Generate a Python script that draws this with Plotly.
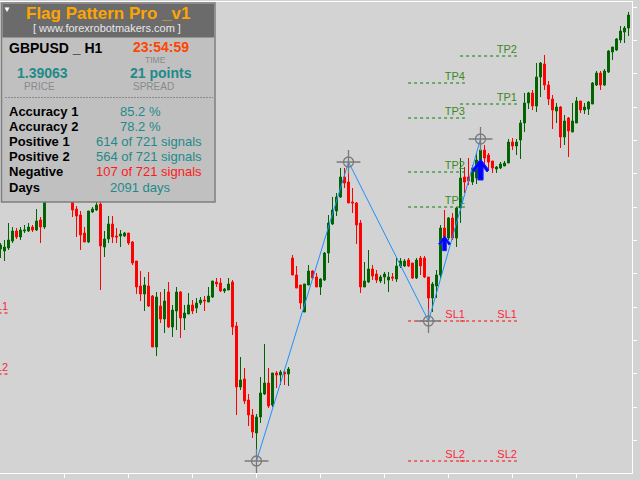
import plotly.graph_objects as go

# GBPUSD H1 bars, oldest -> newest
opens = [
    1.37893, 1.37883, 1.37898, 1.37933, 1.37983, 1.37953, 1.37983, 1.37983, 1.38003, 1.37988,
    1.38038, 1.38003, 1.38148, 1.38188, 1.38163, 1.38208, 1.38178, 1.38198, 1.38148, 1.38093,
    1.38063, 1.37973, 1.37928, 1.38078, 1.38088, 1.38118, 1.37903, 1.37943, 1.38018, 1.37958,
    1.37958, 1.37958, 1.37973, 1.37928, 1.37833, 1.37708, 1.37668, 1.37708, 1.37658, 1.37403,
    1.37608, 1.37543, 1.37678, 1.37503, 1.37583, 1.37678, 1.37548, 1.37568, 1.37613, 1.37598,
    1.37623, 1.37638, 1.37628, 1.37653, 1.37728, 1.37723, 1.37683, 1.37688, 1.37728, 1.37508,
    1.37203, 1.37243, 1.37138, 1.37063, 1.36973, 1.37053, 1.37168, 1.37223, 1.37113, 1.37273,
    1.37263, 1.37278, 1.37268, 1.37848, 1.37763, 1.37713, 1.37578, 1.37713, 1.37783, 1.37753,
    1.37703, 1.37738, 1.37873, 1.38018, 1.38083, 1.38153, 1.38253, 1.38228, 1.38128, 1.38123,
    1.38023, 1.37703, 1.37728, 1.37793, 1.37768, 1.37733, 1.37753, 1.37738, 1.37753, 1.37743,
    1.37808, 1.37808, 1.37838, 1.37823, 1.37748, 1.37848, 1.37848, 1.37753, 1.37648, 1.37708,
    1.37763, 1.37998, 1.37948, 1.38048, 1.37948, 1.38098, 1.38253, 1.38253, 1.38228, 1.38248,
    1.38338, 1.38388, 1.38363, 1.38333, 1.38293, 1.38298, 1.38308, 1.38323, 1.38428, 1.38408,
    1.38438, 1.38523, 1.38623, 1.38673, 1.38608, 1.38753, 1.38818, 1.38713, 1.38643, 1.38583,
    1.38603, 1.38453, 1.38548, 1.38478, 1.38523, 1.38633, 1.38588, 1.38593, 1.38618, 1.38713,
    1.38773, 1.38713, 1.38778, 1.38878, 1.38888, 1.38938, 1.38978, 1.38998,
]
highs = [
    1.37923, 1.37938, 1.38023, 1.38003, 1.37998, 1.38003, 1.38013, 1.38023, 1.38013, 1.38093,
    1.38053, 1.38168, 1.38213, 1.38223, 1.38238, 1.38228, 1.38218, 1.38208, 1.38168, 1.38108,
    1.38083, 1.38003, 1.38083, 1.38103, 1.38128, 1.38128, 1.37983, 1.38058, 1.38058, 1.37998,
    1.37988, 1.37978, 1.37973, 1.37933, 1.37833, 1.37783, 1.37753, 1.37778, 1.37663, 1.37678,
    1.37678, 1.37693, 1.37728, 1.37613, 1.37703, 1.37683, 1.37613, 1.37673, 1.37638, 1.37648,
    1.37653, 1.37658, 1.37703, 1.37733, 1.37748, 1.37748, 1.37698, 1.37748, 1.37738, 1.37528,
    1.37353, 1.37298, 1.37168, 1.37093, 1.37068, 1.37253, 1.37418, 1.37298, 1.37273, 1.37283,
    1.37288, 1.37288, 1.37303, 1.37863, 1.37808, 1.37713, 1.37718, 1.37813, 1.37788, 1.37773,
    1.37748, 1.37878, 1.38063, 1.38153, 1.38173, 1.38298, 1.38298, 1.38328, 1.38198, 1.38128,
    1.38038, 1.37828, 1.37888, 1.37813, 1.37788, 1.37763, 1.37778, 1.37778, 1.37773, 1.37848,
    1.37848, 1.37843, 1.37848, 1.37823, 1.37848, 1.37858, 1.37858, 1.37753, 1.37728, 1.37788,
    1.38013, 1.38088, 1.38053, 1.38073, 1.38103, 1.38348, 1.38303, 1.38348, 1.38313, 1.38373,
    1.38423, 1.38413, 1.38373, 1.38333, 1.38308, 1.38328, 1.38333, 1.38443, 1.38448, 1.38443,
    1.38538, 1.38673, 1.38678, 1.38688, 1.38823, 1.38828, 1.38863, 1.38733, 1.38663, 1.38623,
    1.38608, 1.38563, 1.38553, 1.38623, 1.38653, 1.38633, 1.38623, 1.38633, 1.38728, 1.38783,
    1.38783, 1.38793, 1.38888, 1.38903, 1.38948, 1.39008, 1.39008, 1.39078,
]
lows = [
    1.37848, 1.37833, 1.37888, 1.37923, 1.37943, 1.37938, 1.37973, 1.37978, 1.37978, 1.37983,
    1.37923, 1.37993, 1.38133, 1.38138, 1.38143, 1.38148, 1.38138, 1.38133, 1.38053, 1.37953,
    1.37888, 1.37928, 1.37923, 1.38073, 1.38083, 1.37688, 1.37853, 1.37923, 1.37923, 1.37923,
    1.37903, 1.37953, 1.37913, 1.37813, 1.37668, 1.37633, 1.37583, 1.37603, 1.37403, 1.37358,
    1.37523, 1.37473, 1.37498, 1.37453, 1.37488, 1.37448, 1.37488, 1.37568, 1.37568, 1.37573,
    1.37613, 1.37583, 1.37628, 1.37648, 1.37703, 1.37678, 1.37673, 1.37688, 1.37463, 1.37063,
    1.37188, 1.37118, 1.37008, 1.36948, 1.36833, 1.37023, 1.37163, 1.37098, 1.37103, 1.37198,
    1.37213, 1.37213, 1.37208, 1.37763, 1.37698, 1.37593, 1.37578, 1.37713, 1.37743, 1.37703,
    1.37663, 1.37733, 1.37823, 1.38013, 1.38058, 1.38148, 1.38198, 1.38123, 1.38073, 1.37918,
    1.37673, 1.37703, 1.37723, 1.37738, 1.37723, 1.37723, 1.37718, 1.37678, 1.37733, 1.37728,
    1.37798, 1.37803, 1.37803, 1.37743, 1.37743, 1.37763, 1.37748, 1.37543, 1.37578, 1.37648,
    1.37748, 1.37888, 1.37938, 1.37938, 1.37903, 1.38023, 1.38173, 1.38213, 1.38213, 1.38218,
    1.38298, 1.38298, 1.38288, 1.38273, 1.38273, 1.38293, 1.38308, 1.38323, 1.38388, 1.38363,
    1.38343, 1.38478, 1.38593, 1.38588, 1.38578, 1.38653, 1.38688, 1.38613, 1.38493, 1.38523,
    1.38398, 1.38413, 1.38353, 1.38478, 1.38523, 1.38573, 1.38568, 1.38563, 1.38618, 1.38708,
    1.38688, 1.38708, 1.38773, 1.38838, 1.38883, 1.38923, 1.38923, 1.38958,
]
closes = [
    1.37913, 1.37903, 1.37938, 1.37983, 1.37953, 1.37988, 1.37988, 1.38003, 1.37988, 1.38033,
    1.38003, 1.38148, 1.38188, 1.38163, 1.38208, 1.38178, 1.38198, 1.38158, 1.38088, 1.38058,
    1.37963, 1.37928, 1.38083, 1.38093, 1.38113, 1.37908, 1.37943, 1.38018, 1.37953, 1.37953,
    1.37968, 1.37973, 1.37923, 1.37823, 1.37703, 1.37668, 1.37713, 1.37608, 1.37403, 1.37653,
    1.37543, 1.37633, 1.37503, 1.37588, 1.37678, 1.37548, 1.37573, 1.37613, 1.37583, 1.37623,
    1.37638, 1.37633, 1.37658, 1.37733, 1.37718, 1.37683, 1.37693, 1.37718, 1.37503, 1.37203,
    1.37238, 1.37133, 1.37063, 1.36978, 1.37053, 1.37173, 1.37223, 1.37108, 1.37273, 1.37263,
    1.37278, 1.37268, 1.37293, 1.37763, 1.37698, 1.37623, 1.37718, 1.37783, 1.37748, 1.37703,
    1.37743, 1.37873, 1.38023, 1.38088, 1.38153, 1.38253, 1.38223, 1.38123, 1.38123, 1.38013,
    1.37703, 1.37733, 1.37793, 1.37758, 1.37738, 1.37753, 1.37768, 1.37753, 1.37748, 1.37808,
    1.37833, 1.37833, 1.37808, 1.37748, 1.37838, 1.37808, 1.37753, 1.37648, 1.37718, 1.37763,
    1.37998, 1.37928, 1.38048, 1.37948, 1.38098, 1.38248, 1.38228, 1.38233, 1.38298, 1.38338,
    1.38388, 1.38348, 1.38328, 1.38298, 1.38303, 1.38318, 1.38323, 1.38428, 1.38408, 1.38428,
    1.38523, 1.38623, 1.38673, 1.38608, 1.38753, 1.38823, 1.38713, 1.38643, 1.38588, 1.38603,
    1.38453, 1.38533, 1.38483, 1.38533, 1.38633, 1.38588, 1.38603, 1.38628, 1.38723, 1.38773,
    1.38713, 1.38783, 1.38883, 1.38903, 1.38943, 1.38983, 1.38998, 1.39063,
]
bars = list(range(len(opens)))

# zigzag pivots of the flag (bar index, price)
zz_bars = [64, 87, 107, 120]
zz_prices = [1.36833, 1.38328, 1.37533, 1.38443]

# buy signals (bar index, price at arrow tip)
sig_bars = [111, 120]
sig_prices = [1.37958, 1.38343]

# target / stop levels: name, price, first bar, last bar
level_names = ['SL1', 'SL2', 'TP1', 'TP2', 'TP3', 'TP4', 'SL1', 'SL2', 'TP1', 'TP2', 'SL1', 'SL2']
level_prices = [1.37573, 1.37268, 1.38103, 1.38278, 1.38548, 1.38723, 1.37533, 1.36833,
                1.38618, 1.38858, 1.37533, 1.36833]
level_start = [-20, -20, 101.9, 101.9, 101.9, 101.9, 101.9, 101.9, 114.9, 114.9, 114.9, 114.9]
level_end = [1.9, 1.9, 116.1, 116.1, 116.1, 116.1, 116.1, 116.1, 129.1, 129.1, 129.1, 129.1]

# info panel
symbol = 'GBPUSD _ H1'
clock = '23:54:59'
last_price = 1.39063
spread_points = 21
stat_names = ['Accuracy 1', 'Accuracy 2', 'Positive 1', 'Positive 2', 'Negative', 'Days']
accuracy = [85.2, 78.2]
positives = [614, 564]
negatives = 107
total_signals = 721
days = 2091

W, H = 640, 480
ML, MR, MT, MB = 0, 8, 2, 7
PW, PH = W - ML - MR, H - MT - MB
BG = '#d3d3d3'
FONT = 'Liberation Sans, Arial, sans-serif'
TEAL = '#1f8a8a'


def px(x):
    return (x - ML) / PW


def py(y):
    return 1 - (y - MT) / PH


fig = go.Figure()

# level lines + labels
for kind, col, tcol in [('TP', '#008000', '#3a8a1e'), ('SL', '#ff0000', '#ff1f3a')]:
    lx, ly, tx, ty, tt = [], [], [], [], []
    for n, p, s, e in zip(level_names, level_prices, level_start, level_end):
        if not n.startswith(kind):
            continue
        lx += [s, e, None]
        ly += [p, p, None]
        tx.append(e)
        ty.append(p)
        tt.append(n)
    fig.add_trace(go.Scatter(x=lx, y=ly, mode='lines',
                             line=dict(color=col, width=1, dash='3px,3px')))
    fig.add_trace(go.Scatter(x=tx, y=ty, text=tt, mode='text', textposition='top left',
                             textfont=dict(family=FONT, size=11, color=tcol)))

fig.add_trace(go.Candlestick(
    x=bars, open=opens, high=highs, low=lows, close=closes,
    increasing=dict(line=dict(color='#006400', width=1), fillcolor='#006400'),
    decreasing=dict(line=dict(color='#ff0000', width=1), fillcolor='#ff0000'),
    whiskerwidth=0,
))

fig.add_trace(go.Scatter(x=zz_bars, y=zz_prices, mode='lines',
                         line=dict(color='#1e90ff', width=1)))
fig.add_trace(go.Scatter(x=zz_bars, y=zz_prices, mode='markers',
                         marker=dict(symbol='circle-open', size=10, color='#7a7a7a',
                                     line=dict(width=1.3, color='#7a7a7a'))))
fig.add_trace(go.Scatter(x=zz_bars, y=zz_prices, mode='markers',
                         marker=dict(symbol='cross-thin-open', size=17, color='#7a7a7a',
                                     line=dict(width=1.3, color='#7a7a7a'))))

# wingdings-like up arrows, drawn in pixels around each signal point
shapes = []
for b, p, s in zip(sig_bars, sig_prices, [0.7, 1.0]):
    pts = [(0, 0), (8.5, -11), (6.5, -13), (2.6, -8), (2.6, -21), (-2.6, -21),
           (-2.6, -8), (-6.5, -13), (-8.5, -11)]
    path = 'M ' + ' L '.join(f'{x * s:.2f},{y * s:.2f}' for x, y in pts) + ' Z'
    shapes.append(dict(type='path', xref='x', yref='y', xsizemode='pixel', ysizemode='pixel',
                       xanchor=b, yanchor=p, path=path, fillcolor='#0000ff',
                       line=dict(color='#2020ff', width=1), layer='above'))

anns = []


def label(x, y, text, size, color, bold=False, anchor='center'):
    anns.append(dict(x=px(x), y=py(y), xref='paper', yref='paper', text=text, showarrow=False,
                     xanchor=anchor, yanchor='middle',
                     font=dict(family=FONT, size=size, color=color,
                               weight='bold' if bold else 'normal')))


label(7, 10, '▼', 8, 'white')
label(108, 14, 'Flag Pattern Pro _v1', 17, '#ffa500', True)
label(107, 28.5, '[ www.forexrobotmakers.com ]', 11, '#e8e8e8')
label(7, 48.5, symbol, 14, 'black', True, 'left')
label(161, 47.5, clock, 14, '#ff4500', True)
label(155, 60.5, 'TIME', 8.5, '#8a8a8a')
label(42.5, 73, f'{last_price:.5f}', 14, TEAL, True)
label(160.5, 73, f'{spread_points} points', 14, TEAL, True)
label(39, 86.5, 'PRICE', 10, '#8a8a8a')
label(153.5, 86.5, 'SPREAD', 10, '#8a8a8a')

values = [f'{accuracy[0]} %', f'{accuracy[1]} %',
          f'{positives[0]} of {total_signals} signals', f'{positives[1]} of {total_signals} signals',
          f'{negatives} of {total_signals} signals', f'{days} days']
value_x = [140.5, 140.5, 149, 149, 149, 140]
value_col = [TEAL, TEAL, TEAL, TEAL, '#ff1a1a', TEAL]
for k, (n, v) in enumerate(zip(stat_names, values)):
    y = 112 + 15 * k
    label(7, y, n, 13, 'black', True, 'left')
    label(value_x[k], y, v, 13, value_col[k])

shapes += [
    dict(type='rect', xref='paper', yref='paper', x0=px(1.5), x1=px(215), y0=py(202), y1=py(3),
         fillcolor='#c0c0c0', line=dict(color='#7f7f7f', width=1.5), layer='above'),
    dict(type='rect', xref='paper', yref='paper', x0=px(2.5), x1=px(214), y0=py(37.5), y1=py(4),
         fillcolor='#6b6b6b', line=dict(width=0), layer='above'),
    dict(type='line', xref='paper', yref='paper', x0=px(5), x1=px(213), y0=py(97.5), y1=py(97.5),
         line=dict(color='#8a8a8a', width=1, dash='2px,1px'), layer='above'),
]

fig.update_layout(
    width=W, height=H,
    margin=dict(l=ML, r=MR, t=MT, b=MB),
    paper_bgcolor=BG, plot_bgcolor=BG,
    showlegend=False, hovermode=False,
    annotations=anns, shapes=shapes,
    xaxis=dict(range=[-0.125, 157.875], rangeslider=dict(visible=False),
               showgrid=False, zeroline=False, showticklabels=False,
               showline=True, linecolor='white', linewidth=1, mirror=True,
               ticks='outside', ticklen=4, tickcolor='white',
               tickvals=list(range(16, len(bars), 16))),
    yaxis=dict(range=[1.36773, 1.39128], side='right',
               showgrid=False, zeroline=False, showticklabels=False,
               showline=True, linecolor='white', linewidth=1,
               ticks='outside', ticklen=4, tickcolor='white',
               tick0=1.391015, dtick=0.05 / 30),
)

fig.write_html('out.html', config={'displayModeBar': False},
               post_script="document.body.style.margin='0';"
                           "document.body.style.background='#d3d3d3';")
